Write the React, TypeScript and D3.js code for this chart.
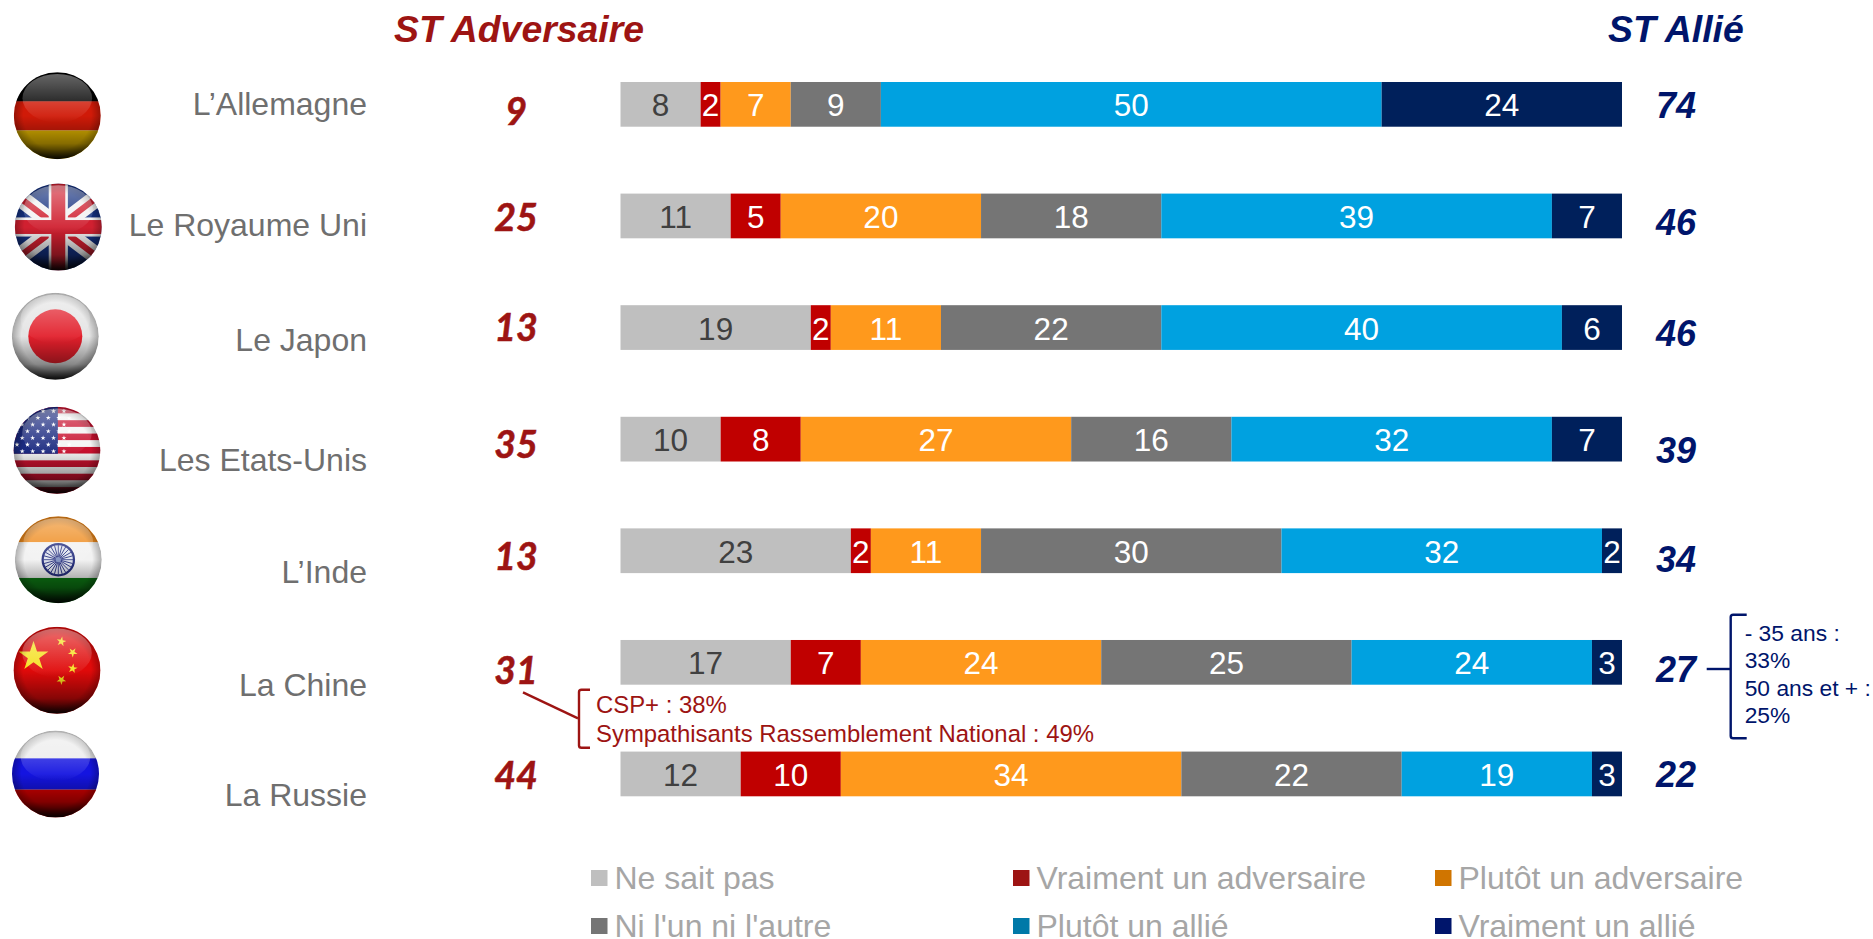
import React from "react";
import * as d3 from "d3";

const countries = ["L’Allemagne", "Le Royaume Uni", "Le Japon", "Les Etats-Unis", "L’Inde", "La Chine", "La Russie"];
const seriesNames = ["Ne sait pas", "Vraiment un adversaire", "Plutôt un adversaire", "Ni l'un ni l'autre", "Plutôt un allié", "Vraiment un allié"];

const neSaitPas = [8, 11, 19, 10, 23, 17, 12];
const vraimentAdversaire = [2, 5, 2, 8, 2, 7, 10];
const plutotAdversaire = [7, 20, 11, 27, 11, 24, 34];
const niLunNiLautre = [9, 18, 22, 16, 30, 25, 22];
const plutotAllie = [50, 39, 40, 32, 32, 24, 19];
const vraimentAllie = [24, 7, 6, 7, 2, 3, 3];
const allSeries = [neSaitPas, vraimentAdversaire, plutotAdversaire, niLunNiLautre, plutotAllie, vraimentAllie];

const stAdversaire = [9, 25, 13, 35, 13, 31, 44];
const stAllie = [74, 46, 46, 39, 34, 27, 22];

const barColors = ["#bfbfbf", "#c00000", "#ff991c", "#757575", "#00a1e0", "#00205b"];
const legendColors = ["#bfbfbf", "#9d1413", "#d07500", "#757575", "#0079a8", "#00156b"];
const labelColors = ["#404040", "#fff", "#fff", "#fff", "#fff", "#fff"];

const RED = "#9d1413";
const NAVY = "#00156b";
const ARIAL = "'Liberation Sans', Arial, sans-serif";

// text baselines are not regular in the original slide, offsets from bar centre
const nameDy = [10.7, 20.1, 23.4, 31.8, 32, 33.9, 32.4];
const advDy = [20.7, 15.1, 13.1, 19, 19.5, 21.9, 15.4];
const allyDy = [13.7, 19.1, 18.3, 24, 21.5, 19.6, 13.4];

const flagCentres: [number, number][] = [
  [57.3, 115.7],
  [58.3, 227],
  [55.3, 336.3],
  [57, 450.3],
  [58.3, 559.7],
  [57, 670.3],
  [55.5, 774],
];

const star = (r: number) => d3.symbol(d3.symbolStar, (r * r) / 0.8908)()!;

const GermanyFlag = () => (
  <g>
    <rect x={-50} y={-50} width={100} height={34} fill="#000" />
    <rect x={-50} y={-16.5} width={100} height={33.5} fill="#d01a08" />
    <rect x={-50} y={17} width={100} height={33} fill="#e0b400" />
  </g>
);

const UkFlag = () => (
  <g>
    <rect x={-50} y={-50} width={100} height={100} fill="#14307f" />
    <path d="M-50,-38L50,38M-50,38L50,-38" stroke="#f2f2f2" strokeWidth={20} />
    <path d="M-50,-38L50,38M-50,38L50,-38" stroke="#d02030" strokeWidth={7} />
    <rect x={-11} y={-50} width={22} height={100} fill="#f2f2f2" />
    <rect x={-50} y={-11} width={100} height={22} fill="#f2f2f2" />
    <rect x={-8} y={-50} width={16} height={100} fill="#d02030" />
    <rect x={-50} y={-8} width={100} height={16} fill="#d02030" />
  </g>
);

const JapanFlag = () => (
  <g>
    <rect x={-50} y={-50} width={100} height={100} fill="#e4e4e4" />
    <circle r={31} fill="#e21f2b" />
  </g>
);

const usStripes = d3.range(13);
const usStarRows = d3.range(7);
const UsFlag = () => (
  <g>
    {usStripes.map((i) => (
      <rect key={i} x={-50} y={-50 + (i * 100) / 13} width={100} height={100 / 13 + 0.2} fill={i % 2 ? "#f4f4f4" : "#c8102e"} />
    ))}
    <rect x={-50} y={-50} width={51} height={54} fill="#1b2a80" />
    {usStarRows.map((r) =>
      d3.range(r % 2 ? 6 : 5).map((c) => (
        <path key={`${r}-${c}`} d={star(3)} fill="#fff" transform={`translate(${(r % 2 ? -46 : -40) + c * 12},${-45 + r * 7.7})`} />
      ))
    )}
  </g>
);

const chakraSpokes = d3.range(24);
const IndiaFlag = () => (
  <g>
    <rect x={-50} y={-50} width={100} height={30} fill="#ee8a1c" />
    <rect x={-50} y={-20} width={100} height={41} fill="#f2f2f2" />
    <rect x={-50} y={21} width={100} height={29} fill="#0d7a14" />
    <circle cy={0} r={18} fill="#dfe3ee" stroke="#27307f" strokeWidth={2.6} />
    {chakraSpokes.map((i) => (
      <line key={i} x1={0} y1={0} x2={0} y2={-17} stroke="#27307f" strokeWidth={1} transform={`rotate(${i * 15})`} />
    ))}
    <circle r={3} fill="#8090c0" />
  </g>
);

const chinaSmallStars: [number, number, number][] = [
  [5, -33, 10],
  [18, -20.5, 35],
  [18, -2, 10],
  [5, 11, 35],
];
const ChinaFlag = () => (
  <g>
    <rect x={-50} y={-50} width={100} height={100} fill="#e00a0a" />
    <path d={star(18)} fill="#f5e020" transform="translate(-27,-16)" />
    {chinaSmallStars.map(([x, y, a]) => (
      <path key={y} d={star(5.8)} fill="#f5e020" transform={`translate(${x},${y}) rotate(${a})`} />
    ))}
  </g>
);

const RussiaFlag = () => (
  <g>
    <rect x={-50} y={-50} width={100} height={32} fill="#ececec" />
    <rect x={-50} y={-18} width={100} height={36} fill="#1414e0" />
    <rect x={-50} y={18} width={100} height={32} fill="#d80000" />
  </g>
);

const flags = [GermanyFlag, UkFlag, JapanFlag, UsFlag, IndiaFlag, ChinaFlag, RussiaFlag];

const App: React.FC = () => {
  const width = 1873;
  const height = 939;

  const x = d3.scaleLinear().domain([0, 100]).range([620.5, 1622]);
  const y = d3
    .scaleBand<string>()
    .domain(countries)
    .range([82, 796.3])
    .paddingInner(1 - 44.7 / 111.55)
    .paddingOuter(0);

  const rows = countries.map((c, i) => {
    const row: Record<string, number | string> = { country: c };
    seriesNames.forEach((s, j) => (row[s] = allSeries[j][i]));
    return row;
  });
  const stacked = d3.stack<any>().keys(seriesNames)(rows);
  const centre = (c: string) => y(c)! + y.bandwidth() / 2;

  // red and blue side notes
  const sideLine = d3.line();
  const legendX = [591, 1013, 1435];
  const legendY = [870, 918];

  return (
    <svg width={width} height={height} style={{ position: "absolute", left: 0, top: 0, background: "#fff" }} fontFamily={ARIAL}>
      <defs>
        <clipPath id="ball">
          <circle r={50} />
        </clipPath>
        <linearGradient id="ballShade" x1="0" y1="0" x2="0" y2="1">
          <stop offset="0.5" stopColor="#000" stopOpacity={0} />
          <stop offset="0.82" stopColor="#000" stopOpacity={0.4} />
          <stop offset="1" stopColor="#000" stopOpacity={0.95} />
        </linearGradient>
        <radialGradient id="ballEdge">
          <stop offset="0.78" stopColor="#000" stopOpacity={0} />
          <stop offset="1" stopColor="#000" stopOpacity={0.28} />
        </radialGradient>
        <linearGradient id="ballShine" x1="0" y1="0" x2="0" y2="1">
          <stop offset="0" stopColor="#fff" stopOpacity={0.4} />
          <stop offset="1" stopColor="#fff" stopOpacity={0} />
        </linearGradient>
      </defs>

      <text x={394} y={41.7} fontSize={37.4} fontWeight="bold" fontStyle="italic" fill={RED}>ST Adversaire</text>
      <text x={1608} y={42} fontSize={37.4} fontWeight="bold" fontStyle="italic" fill={NAVY}>ST Allié</text>

      {countries.map((c, i) => {
        const Flag = flags[i];
        return (
          <g key={c}>
            <g transform={`translate(${flagCentres[i][0]},${flagCentres[i][1]}) scale(0.87)`}>
              <g clipPath="url(#ball)">
                <Flag />
                <circle r={50} fill="url(#ballEdge)" />
                <ellipse cy={-20} rx={40} ry={28} fill="url(#ballShine)" />
                <rect x={-50} y={-50} width={100} height={100} fill="url(#ballShade)" />
              </g>
            </g>
            <text x={367} y={centre(c) + nameDy[i]} textAnchor="end" fontSize={32} fill="#6f6f6f">{c}</text>
            <text x={516} y={centre(c) + advDy[i]} textAnchor="middle" fontSize={37.5} fontWeight="bold" fontStyle="italic" fontFamily="Lato" fill={RED} stroke={RED} strokeWidth={0.6}>{stAdversaire[i]}</text>
            <text x={1676} y={centre(c) + allyDy[i]} textAnchor="middle" fontSize={36} fontWeight="bold" fontStyle="italic" fill={NAVY}>{stAllie[i]}</text>
          </g>
        );
      })}

      {stacked.map((layer, j) => (
        <g key={layer.key} fill={barColors[j]}>
          {layer.map((d, i) => (
            <rect key={i} x={x(d[0])} y={y(countries[i])} width={x(d[1]) - x(d[0])} height={y.bandwidth()} />
          ))}
        </g>
      ))}
      {stacked.map((layer, j) => (
        <g key={layer.key} fill={labelColors[j]} fontSize={31.5} textAnchor="middle">
          {layer.map((d, i) => (
            <text key={i} x={(x(d[0]) + x(d[1])) / 2} y={centre(countries[i]) + 12}>{d[1] - d[0]}</text>
          ))}
        </g>
      ))}

      {/* CSP+ note */}
      <path d={sideLine([[523, 692.3], [578, 718.3]])!} fill="none" stroke={RED} strokeWidth={2.4} />
      <path d="M590,689.7H581.5Q579,689.7 579,692V745.4Q579,747.7 581.5,747.7H590" fill="none" stroke={RED} strokeWidth={2.4} />
      <g fontSize={23.9} fill={RED}>
        <text x={596} y={712.7}>CSP+ : 38%</text>
        <text x={596} y={741.7}>Sympathisants Rassemblement National : 49%</text>
      </g>

      {/* age note */}
      <path d={sideLine([[1706.7, 669], [1730.7, 669]])!} fill="none" stroke={NAVY} strokeWidth={2.4} />
      <path d="M1746.7,614.7H1733.2Q1730.7,614.7 1730.7,617V736Q1730.7,738.3 1733.2,738.3H1746.7" fill="none" stroke={NAVY} strokeWidth={2.4} />
      <g fontSize={22.8} fill={NAVY}>
        <text x={1744.7} y={641}>- 35 ans :</text>
        <text x={1744.7} y={668.3}>33%</text>
        <text x={1744.7} y={696}>50 ans et + :</text>
        <text x={1744.7} y={723.3}>25%</text>
      </g>

      {/* legend: three columns, two rows */}
      {seriesNames.map((s, j) => {
        const lx = legendX[j % 3];
        const ly = legendY[Math.floor(j / 3)];
        return (
          <g key={s}>
            <rect x={lx} y={ly} width={16.5} height={16} fill={legendColors[j]} />
            <text x={lx + 23.5} y={ly + 18.5} fontSize={32} fill="#a6a6a6">{s}</text>
          </g>
        );
      })}
    </svg>
  );
};

export default App;
